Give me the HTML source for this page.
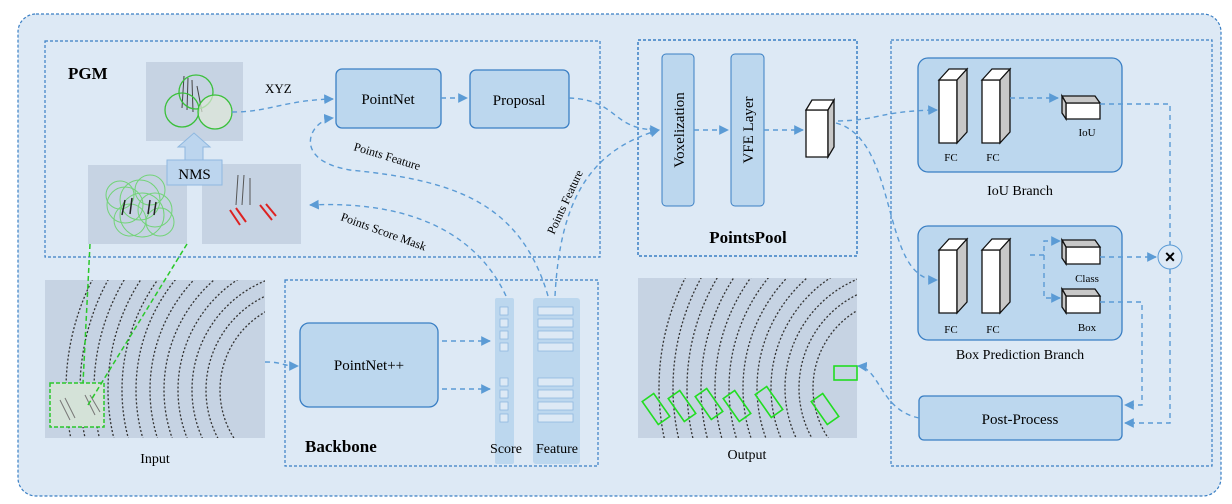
<!DOCTYPE html>
<html><head><meta charset="utf-8"><style>
html,body{margin:0;padding:0;background:#fff;width:1232px;height:504px;overflow:hidden;}
svg{display:block;font-family:"Liberation Serif",serif;}
</style></head><body>
<svg width="1232" height="504" viewBox="0 0 1232 504" xmlns="http://www.w3.org/2000/svg">
<defs>
<marker id="a" viewBox="0 0 10 10" refX="9" refY="5" markerWidth="7" markerHeight="7" orient="auto"><path d="M0,0 L10,5 L0,10 z" fill="#5b9bd5"/></marker>
<clipPath id="ci"><rect x="45" y="280" width="220" height="158"/></clipPath>
<clipPath id="co"><rect x="638" y="278" width="219" height="160"/></clipPath>
<g id="pc">
<g fill="none" stroke="#333" stroke-width="1.3" stroke-dasharray="2 2">
<circle cx="310" cy="390" r="90"/><circle cx="310" cy="390" r="104"/><circle cx="310" cy="390" r="118"/><circle cx="310" cy="390" r="132"/><circle cx="310" cy="390" r="146"/><circle cx="310" cy="390" r="160"/><circle cx="310" cy="390" r="174"/><circle cx="310" cy="390" r="188"/><circle cx="310" cy="390" r="202"/><circle cx="310" cy="390" r="216"/><circle cx="310" cy="390" r="230"/><circle cx="310" cy="390" r="244"/>
</g>
</g>
</defs>
<rect x="0" y="0" width="1232" height="504" fill="#fff"/>
<rect x="18" y="14" width="1203" height="482" rx="18" fill="#dde9f5" stroke="#3a7fc4" stroke-width="1.2" stroke-dasharray="3 2"/>

<!-- PGM -->
<rect x="45" y="41" width="555" height="216" fill="none" stroke="#3a7fc4" stroke-width="1.2" stroke-dasharray="3 2"/>
<text x="68" y="79" font-size="17" font-weight="bold">PGM</text>
<rect x="146" y="62" width="97" height="79" fill="#c6d3e3"/>
<g stroke="#444" stroke-width="1" fill="none"><path d="M184 76 L182 108 M188 78 L187 110 M192 80 L193 112 M197 86 L202 112"/></g>
<g fill="none" stroke="#3ac03a" stroke-width="1.3"><circle cx="196" cy="92" r="17"/><circle cx="182" cy="110" r="17"/><circle cx="215" cy="112" r="17" fill="#dfe8d8" fill-opacity="0.7"/></g>
<rect x="88" y="165" width="99" height="79" fill="#c6d3e3"/>
<g fill="none" stroke="#5ed45e" stroke-width="1" opacity="0.8"><circle cx="125" cy="205" r="18"/><circle cx="140" cy="200" r="20"/><circle cx="155" cy="210" r="17"/><circle cx="130" cy="220" r="16"/><circle cx="150" cy="190" r="15"/><circle cx="120" cy="195" r="14"/><circle cx="160" cy="222" r="14"/><circle cx="142" cy="215" r="22"/></g>
<g stroke="#222" stroke-width="1.5"><path d="M125 200 L122 215 M132 198 L130 214 M150 200 L148 214 M156 202 L154 215"/></g>
<rect x="202" y="164" width="99" height="80" fill="#c6d3e3"/>
<g stroke="#d22" stroke-width="2" fill="none"><path d="M230 210 L240 225 M236 208 L246 222 M260 205 L272 220 M266 204 L276 216"/></g>
<g stroke="#555" stroke-width="1"><path d="M238 175 L236 205 M244 175 L242 205 M250 178 L250 205"/></g>
<path d="M185 160 L185 147 L178 147 L194 133 L210 147 L203 147 L203 160 Z" fill="#bcd5ee" stroke="#8fb8e0"/>
<rect x="167" y="160" width="55" height="25" fill="#bcd5ee" stroke="#8fb8e0" stroke-width="1"/>
<text x="194.5" y="179" font-size="15" text-anchor="middle">NMS</text>

<rect x="336" y="69" width="105" height="59" rx="6" fill="#bcd7ee" stroke="#3a7fc4" stroke-width="1.3"/>
<text x="388" y="104" font-size="15" text-anchor="middle">PointNet</text>
<rect x="470" y="70" width="99" height="58" rx="6" fill="#bcd7ee" stroke="#3a7fc4" stroke-width="1.3"/>
<text x="519" y="105" font-size="15" text-anchor="middle">Proposal</text>
<text x="265" y="93" font-size="13">XYZ</text>

<!-- PointsPool -->
<rect x="638" y="40" width="219" height="216" fill="none" stroke="#3a7fc4" stroke-width="1.5" stroke-dasharray="3 2"/>
<rect x="662" y="54" width="32" height="152" rx="4" fill="#bcd7ee" stroke="#3a7fc4"/>
<rect x="731" y="54" width="33" height="152" rx="4" fill="#bcd7ee" stroke="#3a7fc4"/>
<text transform="translate(684,130) rotate(-90)" font-size="15" text-anchor="middle">Voxelization</text>
<text transform="translate(753,130) rotate(-90)" font-size="15" text-anchor="middle">VFE Layer</text>
<g stroke="#111" stroke-width="1.3"><polygon points="806,110 828,110 828,157 806,157" fill="#fff"/><polygon points="806,110 812,100 834,100 828,110" fill="#fff"/><polygon points="828,110 834,100 834,147 828,157" fill="#c8c8c8"/></g>
<text x="748" y="243" font-size="17" font-weight="bold" text-anchor="middle">PointsPool</text>

<!-- right box -->
<rect x="891" y="40" width="321" height="426" fill="none" stroke="#3a7fc4" stroke-width="1.2" stroke-dasharray="3 2"/>
<rect x="918" y="58" width="204" height="114" rx="10" fill="#bcd7ee" stroke="#3a7fc4" stroke-width="1.3"/>
<text x="1020" y="195" font-size="14" text-anchor="middle">IoU Branch</text>
<rect x="918" y="226" width="204" height="114" rx="10" fill="#bcd7ee" stroke="#3a7fc4" stroke-width="1.3"/>
<text x="1020" y="359" font-size="14" text-anchor="middle">Box Prediction Branch</text>
<g stroke="#111" stroke-width="1.3">
<polygon points="939,80 957,80 957,143 939,143" fill="#fff"/><polygon points="939,80 949,69 967,69 957,80" fill="#fff"/><polygon points="957,80 967,69 967,132 957,143" fill="#c8c8c8"/>
<polygon points="982,80 1000,80 1000,143 982,143" fill="#fff"/><polygon points="982,80 992,69 1010,69 1000,80" fill="#fff"/><polygon points="1000,80 1010,69 1010,132 1000,143" fill="#c8c8c8"/>
<polygon points="1066,103 1100,103 1100,119 1066,119" fill="#fff"/><polygon points="1062,96 1095,96 1100,103 1066,103" fill="#c8c8c8"/><polygon points="1062,96 1066,103 1066,119 1062,113" fill="#c8c8c8"/>
<polygon points="939,250 957,250 957,313 939,313" fill="#fff"/><polygon points="939,250 949,239 967,239 957,250" fill="#fff"/><polygon points="957,250 967,239 967,302 957,313" fill="#c8c8c8"/>
<polygon points="982,250 1000,250 1000,313 982,313" fill="#fff"/><polygon points="982,250 992,239 1010,239 1000,250" fill="#fff"/><polygon points="1000,250 1010,239 1010,302 1000,313" fill="#c8c8c8"/>
<polygon points="1066,247 1100,247 1100,264 1066,264" fill="#fff"/><polygon points="1062,240 1095,240 1100,247 1066,247" fill="#c8c8c8"/><polygon points="1062,240 1066,247 1066,264 1062,258" fill="#c8c8c8"/>
<polygon points="1066,296 1100,296 1100,313 1066,313" fill="#fff"/><polygon points="1062,289 1095,289 1100,296 1066,296" fill="#c8c8c8"/><polygon points="1062,289 1066,296 1066,313 1062,307" fill="#c8c8c8"/>
</g>
<g font-size="11" text-anchor="middle"><text x="951" y="161">FC</text><text x="993" y="161">FC</text><text x="1087" y="136">IoU</text><text x="951" y="333">FC</text><text x="993" y="333">FC</text><text x="1087" y="282">Class</text><text x="1087" y="331">Box</text></g>
<circle cx="1170" cy="257" r="12" fill="#dde9f5" stroke="#5b9bd5"/>
<text x="1170" y="263" font-size="18" font-family="Liberation Sans,sans-serif" font-weight="bold" text-anchor="middle">×</text>
<rect x="919" y="396" width="203" height="44" rx="5" fill="#bcd7ee" stroke="#3a7fc4" stroke-width="1.3"/>
<text x="1020" y="424" font-size="15" text-anchor="middle">Post-Process</text>

<!-- Output image -->
<rect x="638" y="278" width="219" height="160" fill="#c6d3e3"/>
<g clip-path="url(#co)"><use href="#pc" transform="translate(593,-2)"/></g>
<g fill="none" stroke="#22dd22" stroke-width="1.6">
<rect x="649" y="395" width="14" height="28" transform="rotate(-35 656 409)"/><rect x="675" y="392" width="14" height="28" transform="rotate(-35 682 406)"/><rect x="702" y="390" width="14" height="28" transform="rotate(-35 709 404)"/><rect x="730" y="392" width="14" height="28" transform="rotate(-35 737 406)"/><rect x="762" y="388" width="14" height="28" transform="rotate(-35 769 402)"/><rect x="818" y="395" width="14" height="28" transform="rotate(-35 825 409)"/><rect x="834" y="366" width="23" height="14"/>
</g>
<text x="747" y="459" font-size="14" text-anchor="middle">Output</text>

<!-- Input image -->
<rect x="45" y="280" width="220" height="158" fill="#c6d3e3"/>
<g clip-path="url(#ci)"><use href="#pc"/></g>
<rect x="50" y="383" width="54" height="44" fill="#d4e2d8" stroke="#2ac82a" stroke-width="1.5" stroke-dasharray="4 2"/>
<g stroke="#777" stroke-width="1"><path d="M60 400 L70 420 M65 398 L75 418 M85 395 L95 415 M90 395 L100 412"/></g>
<text x="155" y="463" font-size="14" text-anchor="middle">Input</text>
<g stroke="#2ac82a" stroke-width="1.5" stroke-dasharray="5 3" fill="none"><path d="M90 244 L83 383"/><path d="M187 244 L88 405"/></g>

<!-- Backbone -->
<rect x="285" y="280" width="313" height="186" fill="none" stroke="#3a7fc4" stroke-width="1.2" stroke-dasharray="3 2"/>
<rect x="300" y="323" width="138" height="84" rx="9" fill="#bcd7ee" stroke="#3a7fc4" stroke-width="1.3"/>
<text x="369" y="370" font-size="15" text-anchor="middle">PointNet++</text>
<text x="305" y="452" font-size="17" font-weight="bold">Backbone</text>
<rect x="495" y="298" width="19" height="166" rx="2" fill="#bcd7ee"/>
<rect x="533" y="298" width="47" height="166" rx="3" fill="#bcd7ee"/>
<g fill="#dde9f5" stroke="#8fb8e0" stroke-width="0.8">
<rect x="500" y="307" width="8" height="8"/><rect x="500" y="319" width="8" height="8"/><rect x="500" y="331" width="8" height="8"/><rect x="500" y="343" width="8" height="8"/><rect x="500" y="378" width="8" height="8"/><rect x="500" y="390" width="8" height="8"/><rect x="500" y="402" width="8" height="8"/><rect x="500" y="414" width="8" height="8"/>
<rect x="538" y="307" width="35" height="8"/><rect x="538" y="319" width="35" height="8"/><rect x="538" y="331" width="35" height="8"/><rect x="538" y="343" width="35" height="8"/><rect x="538" y="378" width="35" height="8"/><rect x="538" y="390" width="35" height="8"/><rect x="538" y="402" width="35" height="8"/><rect x="538" y="414" width="35" height="8"/>
</g>
<text x="506" y="453" font-size="14" text-anchor="middle">Score</text>
<text x="557" y="453" font-size="14" text-anchor="middle">Feature</text>

<!-- connectors -->
<g fill="none" stroke="#5b9bd5" stroke-width="1.4" stroke-dasharray="5 4" marker-end="url(#a)">
<path d="M232 112 C270 112 285 100 333 99"/>
<path d="M441 98 L467 98"/>
<path d="M569 98 C620 100 610 130 659 130"/>
<path d="M694 130 L728 130"/>
<path d="M764 130 L803 130"/>
<path d="M838 121 C880 120 880 111 937 110"/>
<path d="M836 123 C900 140 880 280 937 280"/>
<path d="M1010 98 L1058 98"/>
<path d="M1030 255 L1044 255 L1044 241 L1060 241"/>
<path d="M1044 255 L1044 298 L1060 298"/>
<path d="M1100 257 L1156 257"/>
<path d="M1100 104 L1170 104 L1170 245" marker-end="none"/>
<path d="M1170 269 L1170 423 L1125 423"/>
<path d="M1100 302 L1142 302 L1142 405 L1125 405"/>
<path d="M919 418 C880 410 880 368 858 366"/>
<path d="M265 362 C285 362 280 366 298 366"/>
<path d="M442 341 L490 341"/>
<path d="M442 389 L490 389"/>
<path d="M506 296 C480 240 420 200 310 205"/>
<path d="M548 296 C520 200 450 180 350 170 C290 160 310 120 333 118"/>
<path d="M555 296 C560 200 590 150 659 130"/>
</g>
<g font-size="12"><text transform="translate(353,150) rotate(17)">Points Feature</text><text transform="translate(340,220) rotate(20)">Points Score Mask</text><text transform="translate(554,235) rotate(-65)">Points Feature</text></g>
</svg>
</body></html>
